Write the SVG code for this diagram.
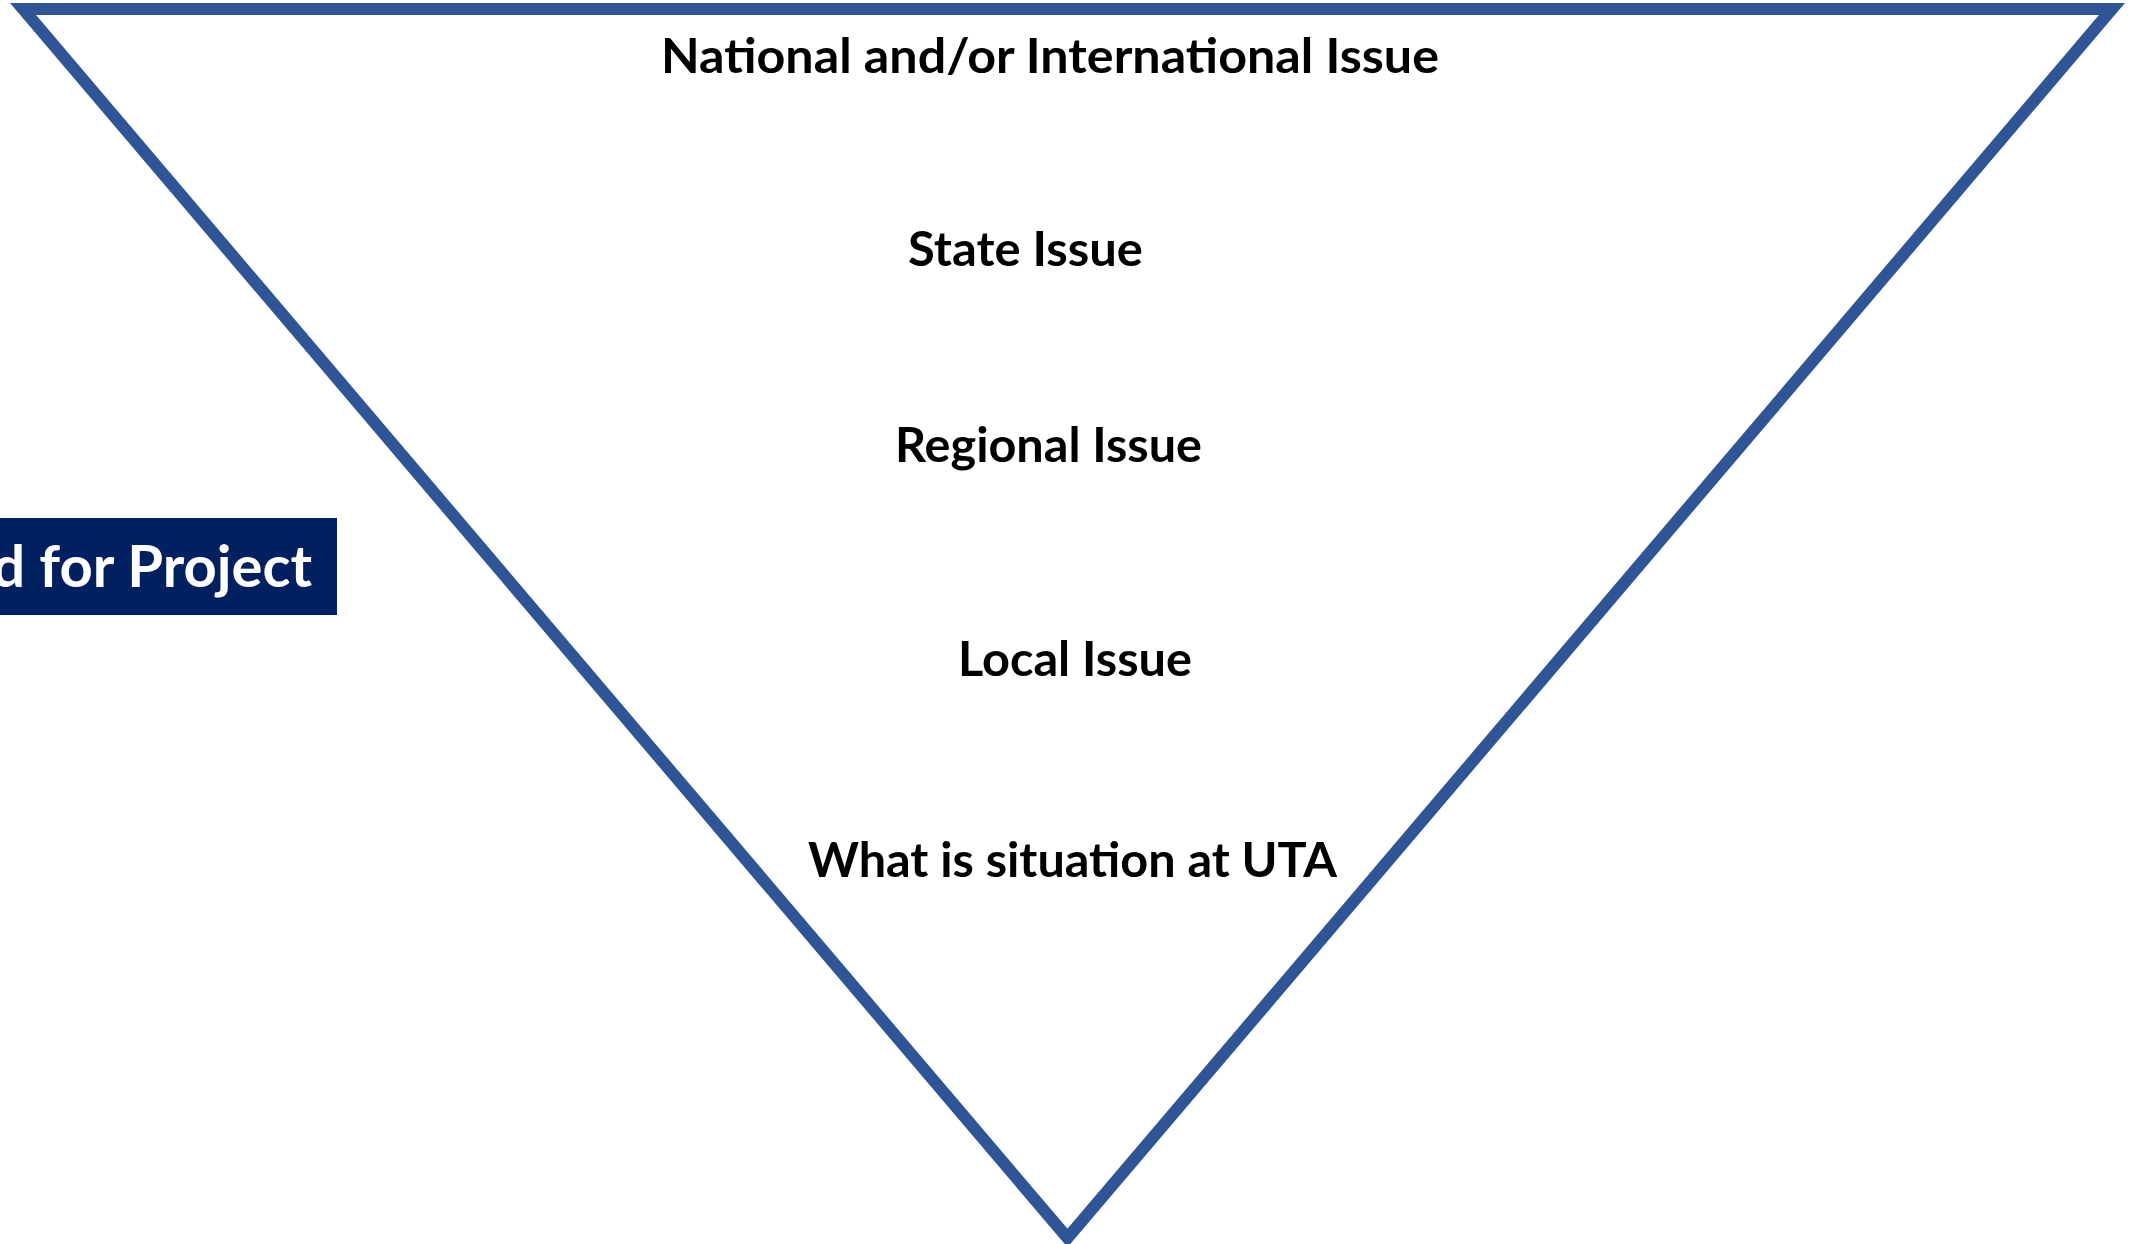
<svg xmlns="http://www.w3.org/2000/svg" width="2134" height="1244" viewBox="0 0 2134 1244">
  <style>
    .lbl { font-family: Lato, "Open Sans", "Liberation Sans", sans-serif; font-weight: 700; font-size: 48px; fill: #000000; }
    .box { fill: #002060; }
    .boxtxt { font-family: Lato, "Open Sans", "Liberation Sans", sans-serif; font-weight: 700; font-size: 58px; fill: #ffffff; }
    .tri { fill: #ffffff; stroke: #2F5597; stroke-width: 12; stroke-linejoin: miter; }
  </style>
  <rect x="0" y="0" width="2134" height="1244" fill="#ffffff"/>
  <g id="funnel">
    <polygon class="tri" points="23,9 2112,9 1067.5,1238"/>
  </g>
  <g id="need-for-project">
    <rect class="box" x="0" y="518" width="337" height="97"/>
    <text class="boxtxt" x="312" y="587" text-anchor="end">d for Project</text>
  </g>
  <g id="national">
    <text class="lbl" x="661" y="73" textLength="778" lengthAdjust="spacingAndGlyphs">National and/or International Issue</text>
  </g>
  <g id="state">
    <text class="lbl" x="908" y="266" textLength="235" lengthAdjust="spacingAndGlyphs">State Issue</text>
  </g>
  <g id="regional">
    <text class="lbl" x="895" y="462" textLength="307" lengthAdjust="spacingAndGlyphs">Regional Issue</text>
  </g>
  <g id="local">
    <text class="lbl" x="958" y="676" textLength="234" lengthAdjust="spacingAndGlyphs">Local Issue</text>
  </g>
  <g id="uta">
    <text class="lbl" x="808" y="877" textLength="529" lengthAdjust="spacingAndGlyphs">What is situation at UTA</text>
  </g>
</svg>
